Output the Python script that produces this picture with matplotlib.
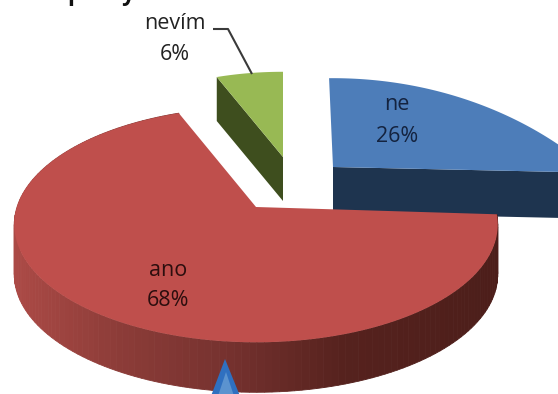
import numpy as np
import matplotlib
matplotlib.use("Agg")
import matplotlib.pyplot as plt
from matplotlib.patches import Polygon

W, H = 558, 394

labels = ["ne", "ano", "nevím"]
values = [26, 68, 6]
title_text = "poskytla vám škola dostatek informací"

top_colors = ["#4d7db9", "#bf4f4c", "#98b954"]
side_colors = ["#1e344f", None, "#3e4e1e"]
text_colors = ["#14233f", "#2c0e0e", "#222222"]

# centre x, centre y, x radius, y radius, perspective, rotation, depth
geometry = [
    (333, 167, 255, 151, 0.70, -1.5, 46),
    (256, 207, 239, 115, 0.15, 0.0, 50),
    (283, 157, 205, 98, 0.15, 0.0, 44),
]
label_pos = [(397, 104, 136), (168, 270, 301), (175, 23, 54)]


def project(theta, geo):
    cx, cy, a, b, k, rot, _ = geo
    t = np.radians(np.asarray(theta, dtype=float) + rot)
    w = 1 + k * np.cos(t)
    return cx + a * np.sin(t) / w, cy - b * np.cos(t) / w


def red_wall_color(x):
    xs = [13, 120, 226, 340, 500]
    r = np.interp(x, xs, [172, 140, 118, 86, 76])
    g = np.interp(x, xs, [74, 60, 50, 34, 30])
    b = np.interp(x, xs, [70, 56, 47, 30, 26])
    return (r / 255, g / 255, b / 255)


fig = plt.figure(figsize=(W / 100, H / 100), dpi=100)
ax = fig.add_axes([0, 0, 1, 1])
ax.set_xlim(0, W)
ax.set_ylim(H, 0)
ax.axis("off")

edges = np.cumsum([0] + values) / sum(values) * 360

# small slices first, the big one sits in front of them
for i in [2, 0, 1]:
    geo = geometry[i]
    depth = geo[6]
    theta = np.linspace(edges[i], edges[i + 1], 160)
    xs, ys = project(theta, geo)
    ax0, ay0 = geo[0], geo[1]

    if i == 1:
        # outer wall, shaded from left to right
        for j in range(len(xs) - 1):
            quad = [(xs[j], ys[j]), (xs[j + 1], ys[j + 1]),
                    (xs[j + 1], ys[j + 1] + depth), (xs[j], ys[j] + depth)]
            c = red_wall_color((xs[j] + xs[j + 1]) / 2)
            ax.add_patch(Polygon(quad, facecolor=c, edgecolor=c, lw=0.6))
    elif i == 0:
        # cut face on the right of the slice
        quad = [(ax0, ay0), (xs[-1], ys[-1]),
                (xs[-1], ys[-1] + depth), (ax0, ay0 + depth)]
        ax.add_patch(Polygon(quad, facecolor=side_colors[i], edgecolor="none"))
    else:
        # cut face on the left of the slice
        quad = [(ax0, ay0), (xs[0], ys[0]),
                (xs[0], ys[0] + depth), (ax0, ay0 + depth)]
        ax.add_patch(Polygon(quad, facecolor=side_colors[i], edgecolor="none"))

    top = np.column_stack([np.r_[ax0, xs], np.r_[ay0, ys]])
    ax.add_patch(Polygon(top, facecolor=top_colors[i], edgecolor="none"))

# blue marker at the bottom edge
ax.add_patch(Polygon([(225, 359), (211, 396), (240, 396)], facecolor="#2f70c0", edgecolor="none"))
ax.add_patch(Polygon([(226, 372), (218, 396), (234, 396)], facecolor="#5b93cf", edgecolor="none"))

# leader line for the small slice
ax.plot([213, 228, 252], [29, 29, 74], color="#3a3a3a", lw=1.5, solid_capstyle="butt")

for i, lab in enumerate(labels):
    x, y1, y2 = label_pos[i]
    ax.text(x, y1, lab, ha="center", va="center", fontsize=15.5, family="Open Sans",
            color=text_colors[i])
    ax.text(x, y2, "%d%%" % values[i], ha="center", va="center", fontsize=15.5,
            family="Open Sans", color=text_colors[i])

# heading sits at the very top, cut off by the edge
ax.text(68, 0, title_text, ha="left", va="baseline", fontsize=16.5, fontweight="bold",
        family="Open Sans", color="#111111")

fig.savefig("out.png", dpi=100, facecolor="white")
